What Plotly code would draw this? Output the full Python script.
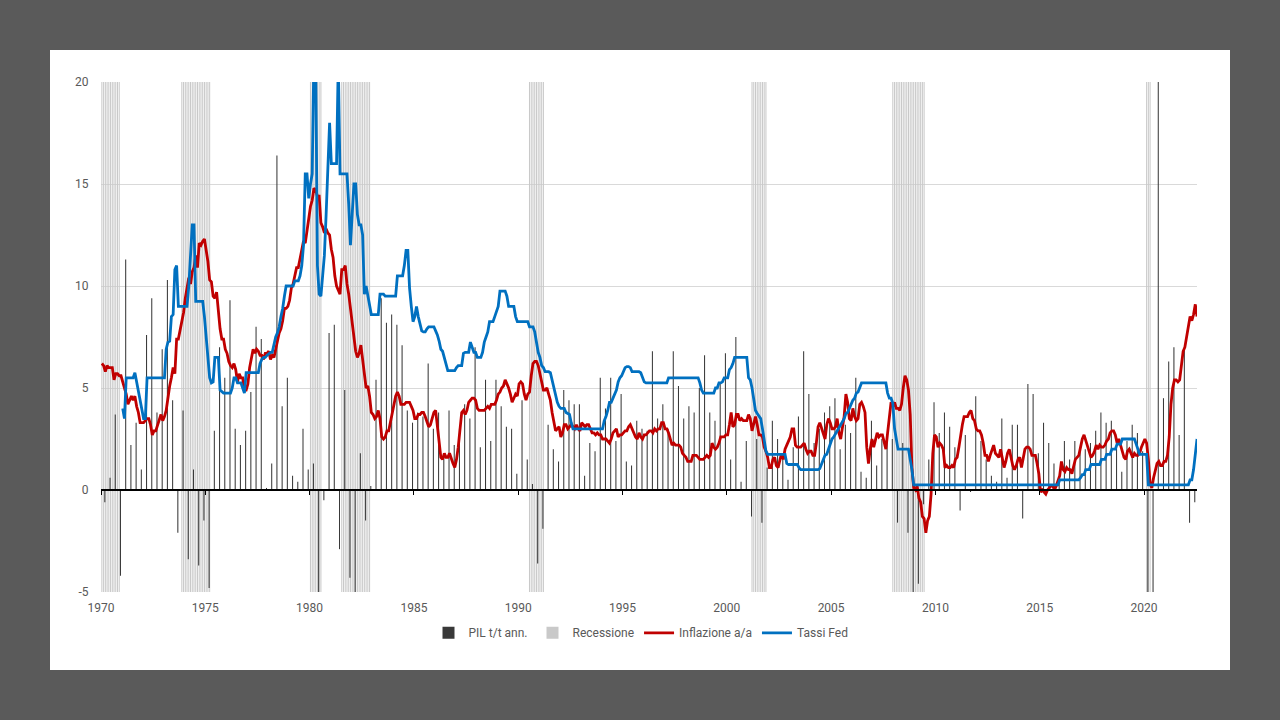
import plotly.graph_objects as go

# PIL USA, variazione t/t annualizzata (trimestrale, 1970 Q1 - 2022 Q2)
pil = [
    -0.6, 0.6, 3.7, -4.2,     # 1970
    11.3, 2.2, 3.3, 1.0,      # 1971
    7.6, 9.4, 3.8, 6.9,       # 1972
    10.3, 4.4, -2.1, 3.9,     # 1973
    -3.4, 1.0, -3.7, -1.5,    # 1974
    -4.8, 2.9, 7.0, 5.5,      # 1975
    9.3, 3.0, 2.2, 2.9,       # 1976
    4.8, 8.0, 7.4, 0.1,       # 1977
    1.3, 16.4, 4.1, 5.5,      # 1978
    0.7, 0.4, 3.0, 1.0,       # 1979
    1.3, -8.0, -0.5, 7.7,     # 1980
    8.1, -2.9, 4.9, -4.3,     # 1981
    -6.1, 1.8, -1.5, 0.2,     # 1982
    5.4, 9.4, 8.2, 8.6,       # 1983
    8.1, 7.1, 3.9, 3.3,       # 1984
    3.8, 3.6, 6.2, 3.0,       # 1985
    3.8, 1.8, 3.9, 2.2,       # 1986
    3.0, 4.2, 3.5, 7.0,       # 1987
    2.1, 5.4, 2.4, 5.4,       # 1988
    4.1, 3.1, 3.0, 0.8,       # 1989
    4.4, 1.5, 0.3, -3.6,      # 1990
    -1.9, 3.2, 2.0, 1.4,      # 1991
    4.9, 4.4, 4.2, 4.2,       # 1992
    0.7, 2.3, 1.9, 5.5,       # 1993
    4.0, 5.5, 2.4, 4.7,       # 1994
    1.4, 1.2, 3.4, 3.0,       # 1995
    2.9, 6.8, 3.5, 4.2,       # 1996
    3.0, 6.8, 5.1, 3.5,       # 1997
    4.1, 3.8, 5.0, 6.6,       # 1998
    3.8, 3.4, 5.2, 6.7,       # 1999
    1.5, 7.5, 0.4, 2.4,       # 2000
    -1.3, 2.5, -1.6, 1.1,     # 2001
    3.4, 2.5, 1.6, 0.5,       # 2002
    2.1, 3.6, 6.8, 4.7,       # 2003
    2.3, 3.0, 3.8, 4.1,       # 2004
    4.5, 2.0, 3.2, 2.8,       # 2005
    5.5, 0.9, 0.6, 3.4,       # 2006
    1.2, 2.5, 2.4, 2.5,       # 2007
    -1.6, 2.3, -2.1, -8.5,    # 2008
    -4.6, -0.7, 1.5, 4.3,     # 2009
    2.8, 3.8, 3.1, 2.1,       # 2010
    -1.0, 2.7, -0.1, 4.6,     # 2011
    2.4, 1.5, 0.7, 0.4,       # 2012
    3.5, 0.6, 3.2, 3.2,       # 2013
    -1.4, 5.2, 4.7, 1.8,      # 2014
    3.3, 2.3, 1.3, 0.6,       # 2015
    2.4, 1.5, 2.4, 2.1,       # 2016
    2.0, 2.3, 2.9, 3.8,       # 2017
    3.3, 3.4, 2.4, 0.9,       # 2018
    2.4, 3.2, 2.8, 1.9,       # 2019
    -5.1, -31.2, 33.8, 4.5,   # 2020
    6.3, 7.0, 2.7, 7.0,       # 2021
    -1.6, -0.6,               # 2022
]

# Inflazione a/a (mensile, gen 1970 - lug 2022)
inflazione = [
    6.2, 6.1, 5.8, 6.1, 6.0, 6.0, 6.0, 5.4, 5.7, 5.7, 5.6, 5.6,          # 1970
    5.3, 5.0, 4.7, 4.2, 4.4, 4.6, 4.4, 4.6, 4.1, 3.8, 3.3, 3.3,          # 1971
    3.3, 3.4, 3.5, 3.5, 3.2, 2.7, 2.9, 2.9, 3.2, 3.4, 3.7, 3.4,          # 1972
    3.6, 3.9, 4.6, 5.1, 5.5, 6.0, 5.7, 7.4, 7.4, 7.8, 8.3, 8.7,          # 1973
    9.4, 10.0, 10.4, 10.1, 10.7, 10.9, 11.5, 10.9, 12.1, 12.0, 12.2, 12.3,  # 1974
    11.8, 11.2, 10.3, 10.2, 9.5, 9.4, 9.7, 8.6, 7.9, 7.4, 7.4, 6.9,      # 1975
    6.7, 6.3, 6.1, 6.0, 6.2, 5.9, 5.3, 5.7, 5.5, 5.5, 4.9, 4.9,          # 1976
    5.2, 6.0, 6.4, 6.9, 6.7, 6.9, 6.8, 6.6, 6.6, 6.4, 6.7, 6.7,          # 1977
    6.8, 6.4, 6.6, 6.5, 6.9, 7.4, 7.7, 7.9, 8.3, 8.9, 8.9, 9.0,          # 1978
    9.3, 9.9, 10.1, 10.5, 10.9, 10.9, 11.3, 11.8, 12.2, 12.1, 12.6, 13.3,  # 1979
    13.9, 14.2, 14.8, 14.7, 14.4, 14.4, 13.1, 12.9, 12.6, 12.8, 12.6, 12.5,  # 1980
    11.8, 11.4, 10.5, 10.0, 9.8, 9.6, 10.8, 10.8, 11.0, 10.1, 9.6, 8.9,  # 1981
    8.4, 7.6, 6.8, 6.5, 6.7, 7.1, 6.4, 5.9, 5.0, 5.1, 4.6, 3.8,          # 1982
    3.7, 3.5, 3.6, 3.9, 3.5, 2.6, 2.5, 2.6, 2.9, 2.9, 3.3, 3.8,          # 1983
    4.2, 4.6, 4.8, 4.6, 4.2, 4.2, 4.2, 4.3, 4.3, 4.3, 4.1, 3.9,          # 1984
    3.5, 3.5, 3.7, 3.7, 3.8, 3.8, 3.6, 3.3, 3.1, 3.2, 3.5, 3.8,          # 1985
    3.9, 3.1, 2.2, 1.6, 1.5, 1.8, 1.6, 1.6, 1.8, 1.5, 1.3, 1.1,          # 1986
    1.5, 2.1, 3.0, 3.8, 3.9, 3.7, 3.9, 4.3, 4.4, 4.5, 4.5, 4.4,          # 1987
    4.0, 3.9, 3.9, 3.9, 3.9, 4.0, 4.1, 4.0, 4.2, 4.2, 4.2, 4.4,          # 1988
    4.7, 4.8, 5.0, 5.1, 5.4, 5.2, 5.0, 4.7, 4.3, 4.5, 4.7, 4.6,          # 1989
    5.2, 5.3, 5.2, 4.7, 4.4, 4.7, 4.8, 5.6, 6.2, 6.3, 6.3, 6.1,          # 1990
    5.7, 5.3, 4.9, 4.9, 5.0, 4.7, 4.4, 3.8, 3.4, 2.9, 3.0, 3.1,          # 1991
    2.6, 2.8, 3.2, 3.2, 3.0, 3.1, 3.2, 3.1, 3.0, 3.2, 3.0, 2.9,          # 1992
    3.3, 3.2, 3.1, 3.2, 3.2, 3.0, 2.8, 2.8, 2.7, 2.8, 2.7, 2.7,          # 1993
    2.5, 2.5, 2.5, 2.4, 2.3, 2.5, 2.8, 2.9, 3.0, 2.6, 2.7, 2.7,          # 1994
    2.8, 2.9, 2.9, 3.1, 3.2, 3.0, 2.8, 2.6, 2.5, 2.8, 2.6, 2.5,          # 1995
    2.7, 2.7, 2.8, 2.9, 2.9, 2.8, 3.0, 2.9, 3.0, 3.0, 3.3, 3.3,          # 1996
    3.0, 3.0, 2.8, 2.5, 2.2, 2.3, 2.2, 2.2, 2.2, 2.1, 1.8, 1.7,          # 1997
    1.6, 1.4, 1.4, 1.4, 1.7, 1.7, 1.7, 1.6, 1.5, 1.5, 1.5, 1.6,          # 1998
    1.7, 1.6, 1.7, 2.3, 2.1, 2.0, 2.1, 2.3, 2.6, 2.6, 2.6, 2.7,          # 1999
    2.7, 3.2, 3.8, 3.1, 3.2, 3.7, 3.7, 3.4, 3.5, 3.4, 3.4, 3.4,          # 2000
    3.7, 3.5, 2.9, 3.3, 3.6, 3.2, 2.7, 2.7, 2.6, 2.1, 1.9, 1.6,          # 2001
    1.1, 1.1, 1.5, 1.6, 1.2, 1.1, 1.5, 1.8, 1.5, 2.0, 2.2, 2.4,          # 2002
    2.6, 3.0, 3.0, 2.2, 2.1, 2.1, 2.1, 2.2, 2.3, 2.0, 1.8, 1.9,          # 2003
    1.9, 1.7, 1.7, 2.3, 3.1, 3.3, 3.0, 2.7, 2.5, 3.2, 3.5, 3.3,          # 2004
    3.0, 3.0, 3.1, 3.5, 2.8, 2.5, 3.2, 3.6, 4.7, 4.3, 3.5, 3.4,          # 2005
    4.0, 3.6, 3.4, 3.5, 4.2, 4.3, 4.1, 3.8, 2.1, 1.3, 2.0, 2.5,          # 2006
    2.1, 2.4, 2.8, 2.6, 2.7, 2.7, 2.4, 2.0, 2.8, 3.5, 4.3, 4.1,          # 2007
    4.3, 4.0, 4.0, 3.9, 4.2, 5.0, 5.6, 5.4, 4.9, 3.7, 1.1, 0.1,          # 2008
    0.0, 0.2, -0.4, -0.6, -1.3, -1.4, -2.1, -1.5, -1.3, -0.2, 1.8, 2.7,  # 2009
    2.6, 2.1, 2.3, 2.2, 2.0, 1.1, 1.2, 1.1, 1.1, 1.2, 1.1, 1.5,          # 2010
    1.6, 2.1, 2.7, 3.2, 3.6, 3.6, 3.6, 3.8, 3.9, 3.5, 3.4, 3.0,          # 2011
    2.9, 2.9, 2.7, 2.3, 1.7, 1.7, 1.4, 1.7, 2.0, 2.2, 1.8, 1.7,          # 2012
    1.6, 2.0, 1.5, 1.1, 1.4, 1.8, 2.0, 1.5, 1.2, 1.0, 1.2, 1.5,          # 2013
    1.6, 1.1, 1.5, 2.0, 2.1, 2.1, 2.0, 1.7, 1.7, 1.7, 1.3, 0.8,          # 2014
    -0.1, 0.0, -0.1, -0.2, 0.0, 0.1, 0.2, 0.2, 0.0, 0.2, 0.5, 0.7,       # 2015
    1.4, 1.0, 0.9, 1.1, 1.0, 1.0, 0.8, 1.1, 1.5, 1.6, 1.7, 2.1,          # 2016
    2.5, 2.7, 2.4, 2.2, 1.9, 1.6, 1.7, 1.9, 2.2, 2.0, 2.2, 2.1,          # 2017
    2.1, 2.2, 2.4, 2.5, 2.8, 2.9, 2.9, 2.7, 2.3, 2.5, 2.2, 1.9,          # 2018
    1.6, 1.5, 1.9, 2.0, 1.8, 1.6, 1.8, 1.7, 1.7, 1.8, 2.1, 2.3,          # 2019
    2.5, 2.3, 1.5, 0.3, 0.1, 0.6, 1.0, 1.3, 1.4, 1.2, 1.2, 1.4,          # 2020
    1.4, 1.7, 2.6, 4.2, 5.0, 5.4, 5.4, 5.3, 5.4, 6.2, 6.8, 7.0,          # 2021
    7.5, 7.9, 8.5, 8.3, 8.6, 9.1, 8.5,                                   # 2022
]

# Tassi Fed (mensile, gen 1971 - lug 2022)
tassi_fed = [
    4.0, 3.5, 5.5, 5.5, 5.5, 5.5, 5.5, 5.75, 5.3, 4.8, 4.3, 3.9,         # 1971
    3.5, 3.5, 5.5, 5.5, 5.5, 5.5, 5.5, 5.5, 5.5, 5.5, 5.5, 5.5,          # 1972
    5.5, 6.9, 7.25, 7.3, 8.5, 8.6, 10.8, 11.0, 9.0, 9.0, 9.0, 9.0,       # 1973
    9.0, 9.0, 10.0, 11.5, 13.0, 13.0, 9.25, 9.25, 9.25, 9.25, 9.25, 8.5,  # 1974
    7.5, 6.4, 5.5, 5.25, 5.3, 6.5, 6.5, 6.5, 4.9, 4.8, 4.75, 4.75,       # 1975
    4.75, 4.75, 4.75, 5.0, 5.5, 5.5, 5.25, 5.25, 5.25, 5.0, 4.75, 5.75,  # 1976
    5.75, 5.75, 5.75, 5.75, 5.75, 5.75, 5.75, 6.2, 6.4, 6.5, 6.5, 6.6,   # 1977
    6.7, 6.75, 6.75, 7.2, 7.5, 7.7, 8.0, 8.5, 8.9, 9.5, 10.0, 10.0,      # 1978
    10.0, 10.0, 10.0, 10.25, 10.25, 10.25, 10.5, 11.0, 12.0, 15.5, 15.5, 14.3,  # 1979
    15.0, 15.5, 21.5, 21.0, 11.0, 9.6, 9.5, 10.5, 11.5, 13.5, 16.0, 18.0,  # 1980
    16.0, 16.0, 16.0, 16.0, 21.0, 15.5, 15.5, 15.5, 15.5, 15.5, 14.0, 12.0,  # 1981
    13.5, 15.0, 15.0, 13.5, 13.0, 13.0, 12.5, 9.6, 10.0, 9.5, 9.0, 8.6,  # 1982
    8.6, 8.6, 8.6, 8.6, 9.6, 9.6, 9.6, 9.5, 9.5, 9.5, 9.5, 9.5,          # 1983
    9.5, 9.5, 10.5, 10.5, 10.5, 10.5, 11.0, 11.75, 11.75, 9.9, 9.0, 8.25,  # 1984
    8.5, 9.0, 8.5, 8.1, 7.8, 7.75, 7.75, 7.9, 8.0, 8.0, 8.0, 8.0,        # 1985
    7.8, 7.6, 7.3, 6.9, 6.8, 6.5, 6.2, 5.85, 5.85, 5.85, 5.85, 5.85,     # 1986
    6.0, 6.1, 6.1, 6.1, 6.7, 6.75, 6.75, 6.75, 7.25, 7.0, 6.75, 6.75,    # 1987
    6.5, 6.5, 6.5, 6.75, 7.25, 7.5, 7.75, 8.25, 8.25, 8.25, 8.5, 8.75,   # 1988
    9.0, 9.75, 9.75, 9.75, 9.75, 9.5, 9.0, 9.0, 9.0, 9.0, 8.5, 8.25,     # 1989
    8.25, 8.25, 8.25, 8.25, 8.25, 8.25, 8.0, 8.0, 8.0, 7.75, 7.25, 6.75,  # 1990
    6.5, 6.1, 6.0, 5.8, 5.8, 5.8, 5.75, 5.4, 4.9, 4.6, 4.3, 4.1,         # 1991
    4.0, 4.0, 4.0, 3.8, 3.75, 3.7, 3.3, 3.0, 3.0, 3.0, 3.0, 3.0,         # 1992
    3.0, 3.0, 3.0, 3.0, 3.0, 3.0, 3.0, 3.0, 3.0, 3.0, 3.0, 3.0,          # 1993
    3.0, 3.4, 3.6, 3.9, 4.3, 4.3, 4.5, 4.75, 4.9, 5.3, 5.5, 5.6,         # 1994
    5.8, 6.0, 6.05, 6.05, 6.0, 5.8, 5.8, 5.8, 5.8, 5.8, 5.75, 5.5,       # 1995
    5.3, 5.25, 5.25, 5.25, 5.25, 5.25, 5.25, 5.25, 5.25, 5.25, 5.25, 5.25,  # 1996
    5.25, 5.25, 5.5, 5.5, 5.5, 5.5, 5.5, 5.5, 5.5, 5.5, 5.5, 5.5,        # 1997
    5.5, 5.5, 5.5, 5.5, 5.5, 5.5, 5.5, 5.5, 5.25, 4.9, 4.75, 4.75,       # 1998
    4.75, 4.75, 4.75, 4.75, 4.75, 5.0, 5.0, 5.25, 5.25, 5.3, 5.5, 5.5,   # 1999
    5.5, 5.9, 6.0, 6.2, 6.5, 6.5, 6.5, 6.5, 6.5, 6.5, 6.5, 6.5,          # 2000
    5.5, 5.4, 5.0, 4.5, 3.9, 3.75, 3.6, 3.5, 3.0, 2.45, 1.9, 1.75,       # 2001
    1.75, 1.75, 1.75, 1.75, 1.75, 1.75, 1.75, 1.75, 1.75, 1.75, 1.3, 1.25,  # 2002
    1.25, 1.25, 1.25, 1.25, 1.25, 1.1, 1.0, 1.0, 1.0, 1.0, 1.0, 1.0,     # 2003
    1.0, 1.0, 1.0, 1.0, 1.0, 1.05, 1.3, 1.5, 1.7, 1.75, 2.0, 2.2,        # 2004
    2.5, 2.6, 2.75, 2.9, 3.0, 3.2, 3.3, 3.5, 3.75, 3.8, 4.0, 4.2,        # 2005
    4.4, 4.5, 4.75, 4.8, 5.0, 5.25, 5.25, 5.25, 5.25, 5.25, 5.25, 5.25,  # 2006
    5.25, 5.25, 5.25, 5.25, 5.25, 5.25, 5.25, 5.25, 4.75, 4.5, 4.5, 4.25,  # 2007
    3.0, 2.5, 2.0, 2.0, 2.0, 2.0, 2.0, 2.0, 2.0, 1.5, 1.0, 0.25,         # 2008
    0.25, 0.25, 0.25, 0.25, 0.25, 0.25, 0.25, 0.25, 0.25, 0.25, 0.25, 0.25,  # 2009
    0.25, 0.25, 0.25, 0.25, 0.25, 0.25, 0.25, 0.25, 0.25, 0.25, 0.25, 0.25,  # 2010
    0.25, 0.25, 0.25, 0.25, 0.25, 0.25, 0.25, 0.25, 0.25, 0.25, 0.25, 0.25,  # 2011
    0.25, 0.25, 0.25, 0.25, 0.25, 0.25, 0.25, 0.25, 0.25, 0.25, 0.25, 0.25,  # 2012
    0.25, 0.25, 0.25, 0.25, 0.25, 0.25, 0.25, 0.25, 0.25, 0.25, 0.25, 0.25,  # 2013
    0.25, 0.25, 0.25, 0.25, 0.25, 0.25, 0.25, 0.25, 0.25, 0.25, 0.25, 0.25,  # 2014
    0.25, 0.25, 0.25, 0.25, 0.25, 0.25, 0.25, 0.25, 0.25, 0.25, 0.25, 0.5,   # 2015
    0.5, 0.5, 0.5, 0.5, 0.5, 0.5, 0.5, 0.5, 0.5, 0.5, 0.5, 0.6,          # 2016
    0.75, 0.75, 1.0, 1.0, 1.0, 1.25, 1.25, 1.25, 1.25, 1.25, 1.25, 1.5,  # 2017
    1.5, 1.5, 1.75, 1.75, 1.75, 2.0, 2.0, 2.0, 2.25, 2.25, 2.25, 2.5,    # 2018
    2.5, 2.5, 2.5, 2.5, 2.5, 2.5, 2.5, 2.25, 2.0, 1.75, 1.75, 1.75,      # 2019
    1.75, 1.75, 0.25, 0.25, 0.25, 0.25, 0.25, 0.25, 0.25, 0.25, 0.25, 0.25,  # 2020
    0.25, 0.25, 0.25, 0.25, 0.25, 0.25, 0.25, 0.25, 0.25, 0.25, 0.25, 0.25,  # 2021
    0.25, 0.25, 0.5, 0.5, 1.0, 1.75, 2.5,                                # 2022
]

# Recessioni (primo e ultimo mese, anno-mese)
recessioni = [
    ((1970, 1), (1970, 11)),
    ((1973, 11), (1975, 3)),
    ((1980, 1), (1980, 7)),
    ((1981, 7), (1982, 11)),
    ((1990, 7), (1991, 3)),
    ((2001, 3), (2001, 11)),
    ((2007, 12), (2009, 6)),
    ((2020, 2), (2020, 4)),
]

anni_tick = [1970, 1975, 1980, 1985, 1990, 1995, 2000, 2005, 2010, 2015, 2020]
y_tick = [-5, 0, 5, 10, 15, 20]
y_tick_text = ["-5", "0", "5", "10", "15", "20"]


def mese(anno, m):
    # centro del mese in anni decimali
    return anno + (m - 0.5) / 12


x_infl = [mese(1970 + i // 12, i % 12 + 1) for i in range(len(inflazione))]
x_fed = [mese(1971 + i // 12, i % 12 + 1) for i in range(len(tassi_fed))]
x_pil = [1970 + i // 4 + (3 * (i % 4 + 1) - 0.8) / 12 for i in range(len(pil))]

x_rec = []
for (a0, m0), (a1, m1) in recessioni:
    a, m = a0, m0
    while (a, m) <= (a1, m1):
        x_rec.append(mese(a, m))
        m += 1
        if m > 12:
            a, m = a + 1, 1

y_min, y_max = -5, 20
x_range = [1970, 2022.54]
grigio = "#595959"
font = dict(family="Roboto, Arial, sans-serif", size=12, color=grigio)

fig = go.Figure()

# colore con alpha < 1 -> plotly arrotonda i bordi al pixel invece di allargare le barre sottili
fig.add_trace(go.Bar(
    x=x_rec, y=[y_max - y_min] * len(x_rec), base=y_min, width=0.05,
    marker=dict(color="rgba(200,200,200,0.99)", line=dict(width=0)),
    name="Recessione", legendrank=2, hoverinfo="skip"))

fig.add_trace(go.Bar(
    x=x_pil, y=pil, width=0.05,
    marker=dict(color="rgba(55,55,55,0.99)", line=dict(width=0)),
    name="PIL t/t ann.", legendrank=1, xaxis="x2", yaxis="y"))

fig.add_trace(go.Scatter(
    x=x_infl, y=inflazione, mode="lines",
    line=dict(color="#c00000", width=2.8),
    name="Inflazione a/a", legendrank=3, xaxis="x2", yaxis="y"))

fig.add_trace(go.Scatter(
    x=x_fed, y=tassi_fed, mode="lines",
    line=dict(color="#0070c0", width=2.8),
    name="Tassi Fed", legendrank=4, xaxis="x2", yaxis="y"))

fig.update_layout(
    width=1280, height=720,
    paper_bgcolor="#5a5a5a",
    plot_bgcolor="white",
    margin=dict(l=101, r=83, t=82, b=128),
    barmode="overlay",
    font=font,
    showlegend=True,
    legend=dict(orientation="h", x=0.4927, xanchor="center", y=-0.08, yanchor="middle",
                font=font, bgcolor="rgba(0,0,0,0)", traceorder="normal"),
    xaxis=dict(range=x_range, tickvals=anni_tick, showgrid=False, zeroline=False,
               showline=False, ticks="outside", ticklen=5, tickcolor="rgba(0,0,0,0)",
               tickfont=font),
    # asse dello zero con le tacche
    xaxis2=dict(range=x_range, overlaying="x", anchor="free", position=(0 - y_min) / (y_max - y_min),
                tickvals=anni_tick, showticklabels=False, showgrid=False, zeroline=False,
                showline=True, linecolor="black", linewidth=1.5,
                ticks="outside", ticklen=4, tickcolor="black", tickwidth=1.2),
    yaxis=dict(range=[y_min, y_max], tickvals=y_tick, ticktext=y_tick_text,
               showgrid=True, gridcolor="#d9d9d9", gridwidth=1, zeroline=False,
               showline=False, ticks="outside", ticklen=9, tickcolor="rgba(0,0,0,0)",
               tickfont=font),
    shapes=[dict(type="rect", xref="paper", yref="paper",
                 x0=-51 / 1096, x1=1129 / 1096, y0=-78 / 510, y1=1 + 32 / 510,
                 fillcolor="white", line=dict(width=0), layer="below")],
)

fig.write_html(
    "out.html",
    config={"displayModeBar": False},
    post_script="document.body.style.margin='0';document.body.style.background='#5a5a5a';",
)
